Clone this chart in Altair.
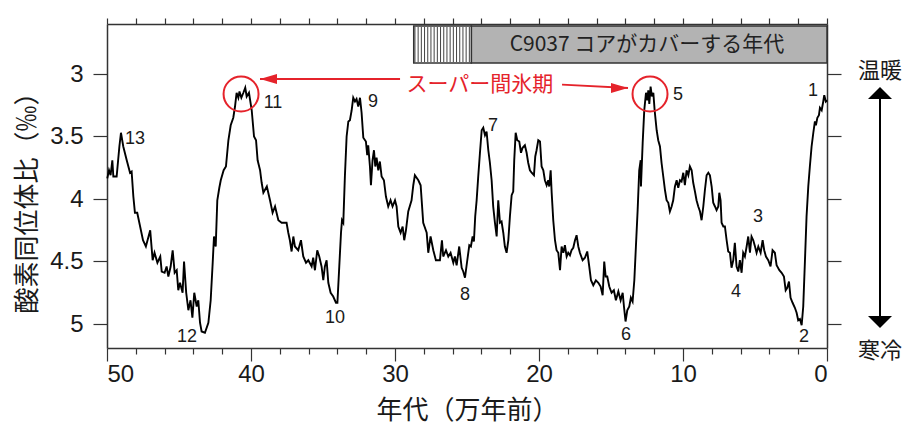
import altair as alt
import pandas as pd

# ---- oxygen isotope curve (age in 10^4 years, d18O permil) ----
ages = [49.98, 49.86, 49.75, 49.63, 49.56, 49.33, 49.14, 49.03, 48.87, 48.63, 48.40, 48.29, 48.17, 48.06,
        47.90, 47.70, 47.50, 47.30, 47.00, 46.83, 46.70, 46.50, 46.30, 46.20, 46.00, 45.86, 45.74, 45.58,
        45.44, 45.30, 45.16, 45.05, 44.93, 44.75, 44.65, 44.50, 44.35, 44.20, 44.07, 43.94, 43.77, 43.66,
        43.54, 43.43, 43.20, 42.96, 42.80, 42.66, 42.57, 42.45, 42.34, 42.20, 42.10, 41.90, 41.74, 41.57,
        41.41, 41.23, 41.11, 41.00, 40.88, 40.80, 40.67, 40.53, 40.40, 40.30, 40.14, 39.95, 39.79, 39.65,
        39.54, 39.37, 39.26, 39.14, 38.90, 38.68, 38.50, 38.33, 38.10, 37.87,
        37.53, 37.41, 37.30, 37.18, 37.06, 36.95, 36.72, 36.53, 36.37, 36.18, 36.02, 35.79, 35.68, 35.56,
        35.40, 35.26, 35.10, 34.98, 34.87, 34.75, 34.63, 34.47, 34.29, 34.10, 34.00, 33.87, 33.75, 33.68,
        33.59, 33.48, 33.36, 33.24, 33.13, 33.01, 32.90, 32.78, 32.67, 32.55, 32.43, 32.32, 32.20, 32.02,
        31.93, 31.86, 31.74, 31.67, 31.56, 31.46, 31.37, 31.28, 31.16, 31.05, 30.93, 30.77, 30.63, 30.47,
        30.31, 30.17, 30.00, 29.89, 29.77, 29.61, 29.47, 29.36, 29.24, 29.08, 28.85, 28.73, 28.62, 28.38,
        28.22, 28.04, 27.80, 27.69, 27.53, 27.34, 27.16, 27.00, 26.88, 26.74, 26.65, 26.46, 26.30, 26.14,
        25.95, 25.84, 25.72, 25.54,
        25.37, 25.26, 25.14, 24.98, 24.84, 24.73, 24.61, 24.52, 24.43, 24.33, 24.22, 24.10, 23.98, 23.87,
        23.75, 23.64, 23.52, 23.41, 23.29, 23.18, 23.06, 22.94, 22.83, 22.71, 22.60, 22.48, 22.37, 22.25,
        22.13, 22.02, 21.90, 21.79, 21.72, 21.62, 21.51, 21.37, 21.25, 21.14, 20.98, 20.86, 20.75, 20.63,
        20.51, 20.35, 20.26, 20.17, 20.05, 19.93, 19.82, 19.70, 19.59, 19.47, 19.36, 19.29, 19.19, 19.12,
        19.01, 18.89, 18.78, 18.66, 18.54, 18.43, 18.31, 18.20, 18.08, 17.97, 17.85, 17.74, 17.62, 17.50,
        17.39, 17.27, 17.16, 16.97, 16.81, 16.65, 16.51, 16.39, 16.23, 16.05, 15.88, 15.72, 15.58, 15.47,
        15.37, 15.26, 15.12, 14.96, 14.80, 14.66, 14.49, 14.33, 14.19, 14.10, 13.99, 13.87, 13.73, 13.62,
        13.50, 13.38, 13.27, 13.15, 13.04, 12.94,
        12.92, 12.80, 12.69, 12.57, 12.48, 12.41, 12.34, 12.25, 12.16, 12.06, 11.97, 11.83, 11.72, 11.60,
        11.49, 11.37, 11.25, 11.14, 11.02, 10.91, 10.79, 10.68, 10.56, 10.44, 10.33, 10.21, 10.10, 9.98,
        9.87, 9.75, 9.63, 9.52, 9.40, 9.29, 9.17, 9.06, 8.94, 8.82, 8.71, 8.59, 8.48, 8.36, 8.24, 8.13,
        8.01, 7.90, 7.78, 7.67, 7.55, 7.48, 7.39, 7.32, 7.20, 7.09, 6.97, 6.86, 6.74, 6.63, 6.51, 6.40,
        6.28, 6.16, 6.05, 5.93, 5.82, 5.70, 5.58, 5.47, 5.35, 5.24, 5.12, 5.00, 4.89, 4.77, 4.61, 4.47,
        4.36, 4.24, 4.08, 3.92, 3.78, 3.62, 3.50, 3.31, 3.15, 2.99, 2.87, 2.76, 2.64, 2.53, 2.39, 2.23,
        2.11, 2.00, 1.88, 1.76, 1.65, 1.53, 1.42, 1.30, 1.19, 1.07, 0.95, 0.84, 0.77, 0.67, 0.56, 0.49,
        0.37, 0.26, 0.19, 0.08, 0.00]
d18o = [3.835, 3.77, 3.81, 3.69, 3.82, 3.82, 3.58, 3.47, 3.58, 3.69, 3.79, 3.78, 3.98, 4.11,
        4.11, 4.22, 4.33, 4.38, 4.25, 4.49, 4.43, 4.51, 4.46, 4.58, 4.59, 4.54, 4.62, 4.54,
        4.41, 4.59, 4.57, 4.73, 4.67, 4.75, 4.50, 4.75, 4.89, 4.81, 4.95, 4.75, 4.86, 4.81,
        4.99, 5.06, 5.07, 4.99, 4.81, 4.51, 4.30, 4.38, 4.01, 3.91, 3.85, 3.77, 3.74, 3.53,
        3.41, 3.35, 3.26, 3.15, 3.19, 3.14, 3.19, 3.15, 3.11, 3.18, 3.15, 3.29, 3.50, 3.53,
        3.69, 3.77, 3.87, 3.95, 3.90, 4.01, 4.11, 4.06, 4.17, 4.19,
        4.19, 4.27, 4.33, 4.42, 4.30, 4.38, 4.41, 4.33, 4.46, 4.51, 4.49, 4.54, 4.47, 4.57,
        4.41, 4.46, 4.54, 4.65, 4.54, 4.49, 4.67, 4.75, 4.78, 4.83, 4.83, 4.54, 4.27, 4.17,
        4.19, 3.82, 3.50, 3.38, 3.37, 3.29, 3.19, 3.22, 3.20, 3.26, 3.19, 3.31, 3.51, 3.54,
        3.65, 3.57, 3.74, 3.89, 3.69, 3.61, 3.74, 3.67, 3.77, 3.70, 3.82, 3.85, 3.98, 4.06,
        4.01, 4.06, 4.01, 4.06, 4.22, 4.27, 4.22, 4.33, 4.25, 4.10, 4.01, 3.89, 3.81, 3.85,
        3.89, 4.19, 4.27, 4.43, 4.30, 4.41, 4.49, 4.49, 4.49, 4.33, 4.46, 4.41, 4.46, 4.43,
        4.51, 4.46, 4.53, 4.38,
        4.55, 4.58, 4.63, 4.49, 4.37, 4.38, 4.30, 4.34, 4.14, 4.01, 3.82, 3.63, 3.45, 3.43,
        3.49, 3.46, 3.61, 3.71, 3.85, 4.06, 4.19, 4.30, 4.01, 4.19, 4.18, 4.27, 4.38, 4.43,
        4.33, 4.14, 3.97, 3.94, 3.69, 3.47, 3.53, 3.54, 3.63, 3.59, 3.57, 3.63, 3.71, 3.77,
        3.79, 3.81, 3.66, 3.61, 3.53, 3.54, 3.74, 3.77, 3.85, 3.89, 3.85, 3.90, 3.77, 3.95,
        4.17, 4.33, 4.41, 4.43, 4.57, 4.38, 4.43, 4.37, 4.46, 4.43, 4.45, 4.41, 4.39, 4.33,
        4.29, 4.38, 4.43, 4.49, 4.47, 4.42, 4.54, 4.65, 4.69, 4.65, 4.67, 4.70, 4.77, 4.50,
        4.62, 4.62, 4.70, 4.75, 4.73, 4.81, 4.74, 4.81, 4.75, 4.86, 4.98, 4.89, 4.86, 4.79,
        4.82, 4.65, 4.38, 4.09, 3.77, 3.69,
        3.90, 3.55, 3.29, 3.15, 3.21, 3.13, 3.24, 3.10, 3.18, 3.15, 3.29, 3.45, 3.53, 3.58,
        3.71, 3.82, 3.93, 4.01, 4.03, 4.10, 4.06, 4.01, 3.90, 3.85, 3.91, 3.85, 3.86, 3.79,
        3.89, 3.77, 3.81, 3.74, 3.77, 3.87, 3.94, 4.01, 4.06, 4.10, 4.17, 4.06, 3.93, 3.81, 3.79, 3.81,
        3.90, 4.03, 4.06, 4.09, 4.06, 3.95, 4.01, 4.19, 4.22, 4.22, 4.33, 4.42, 4.43, 4.55, 4.49, 4.35,
        4.54, 4.58, 4.49, 4.59, 4.43, 4.46, 4.38, 4.30, 4.43, 4.30, 4.33, 4.38, 4.43, 4.38, 4.43, 4.33,
        4.41, 4.46, 4.49, 4.54, 4.41, 4.43, 4.53, 4.57, 4.59, 4.62, 4.73, 4.71, 4.66, 4.79, 4.83, 4.87,
        4.91, 4.97, 4.96, 5.01, 4.86, 4.49, 4.14, 3.90, 3.74, 3.58, 3.47, 3.38, 3.41, 3.35, 3.33, 3.27,
        3.29, 3.22, 3.17, 3.22, 3.21]

# ---- MIS stage labels ----
stage_text = ["13", "11", "12", "10", "9", "8", "7", "6", "5", "4", "3", "2", "1"]
stage_x = [48.06, 38.47, 44.44, 34.17, 31.53, 25.14, 23.19, 13.96, 10.35, 6.32, 4.79, 1.60, 0.97]
stage_y = [3.52, 3.232, 5.104, 4.952, 3.224, 4.768, 3.416, 5.088, 3.168, 4.744, 4.144, 5.104, 3.136]

# ---- core coverage box ----
hatch_from, core_from, core_to = 28.7, 24.7, 0.0
box_top, box_bottom = 2.616, 2.912
core_label = "C9037 コアがカバーする年代"
core_label_x, core_label_y = 12.5, 2.77

# ---- super interglacial annotation ----
circle_x = [40.69, 12.29]
circle_y = [3.16, 3.16]
super_label = "スーパー間氷期"
super_label_x, super_label_y = 24.1, 3.088
arrow_left = dict(x=29.65, x2=39.375, y=3.04, y2=3.04)
arrow_right = dict(x=18.4, x2=13.82, y=3.085, y2=3.112)

# ---- warm / cold indicator ----
side_x = -3.68
warm_label, cold_label = "温暖", "寒冷"
warm_y, cold_y = 2.976, 5.216
side_tip_top, side_tip_bottom = 3.104, 5.032

yticks = [3, 3.5, 4, 4.5, 5]
xticks = list(range(0, 51, 2))

RED = "#e5232b"
XS = alt.Scale(domain=[0, 50], reverse=True, nice=False, zero=False)
YS = alt.Scale(domain=[2.6, 5.192], reverse=True, nice=False, zero=False)
JP = "Noto Sans CJK JP"
LAT = "Liberation Sans"

curve = pd.DataFrame({"age": ages, "d18o": d18o})
line = alt.Chart(curve).mark_line(color="black", strokeWidth=1.9, strokeJoin="miter").encode(
    x=alt.X("age:Q", scale=XS, axis=alt.Axis(
        orient="bottom", values=xticks, title="年代（万年前）",
        labelExpr="datum.value % 10 === 0 ? datum.label : ''",
        tickSize={"condition": {"test": "datum.value % 10 === 0", "value": 13}, "value": 6},
        labelFontSize=24, labelFont=LAT, labelColor="#1a1a1a", labelPadding=1,
        tickColor="#333", tickWidth=1.2, domainColor="#333", domainWidth=1.5,
        titleFont=JP, titleFontSize=26, titleFontWeight="normal", titleColor="#1a1a1a", titlePadding=11,
        grid=False)),
    y=alt.Y("d18o:Q", scale=YS, axis=alt.Axis(
        orient="left", values=yticks, title="酸素同位体比（‰）", format="~g",
        tickSize=14, labelFontSize=24, labelFont=LAT, labelColor="#1a1a1a", labelPadding=10,
        tickColor="#333", tickWidth=1.2, domainColor="#333", domainWidth=1.5,
        titleFont=JP, titleFontSize=26, titleFontWeight="normal", titleColor="#1a1a1a", titlePadding=9,
        titleY=172, grid=False)),
)

box_df = pd.DataFrame({"x": [core_from], "x2": [core_to], "y": [box_top], "y2": [box_bottom]})
box = alt.Chart(box_df).mark_rect(fill="#b3b3b3", stroke="#333", strokeWidth=1.5).encode(
    x=alt.X("x:Q", scale=XS, axis=alt.Axis(orient="top", values=xticks, labels=False, title=None,
                                          tickSize=6, tickColor="#333", tickWidth=1.2,
                                          domainColor="#333", domainWidth=1.5, grid=False)),
    x2="x2:Q",
    y=alt.Y("y:Q", scale=YS, axis=alt.Axis(orient="right", values=yticks, labels=False, title=None,
                                          tickSize=14, tickColor="#333", tickWidth=1.2,
                                          domainColor="#333", domainWidth=1.5, grid=False)),
    y2="y2:Q",
)

hatch_df = pd.DataFrame({"x": [hatch_from], "x2": [core_from], "y": [box_top], "y2": [box_bottom]})
hatch_bg = alt.Chart(hatch_df).mark_rect(fill="white", stroke="#333", strokeWidth=1.5).encode(
    x=alt.X("x:Q", scale=XS, axis=None), x2="x2:Q",
    y=alt.Y("y:Q", scale=YS, axis=None), y2="y2:Q")
hatch_line_df = pd.DataFrame({"x": [hatch_from - 0.05], "x2": [core_from + 0.05],
                              "y": [(box_top + box_bottom) / 2]})
hatch = alt.Chart(hatch_line_df).mark_rule(color="#444", strokeWidth=35, strokeDash=[1, 2.2],
                                           strokeCap="butt").encode(
    x=alt.X("x:Q", scale=XS, axis=None), x2="x2:Q",
    y=alt.Y("y:Q", scale=YS, axis=None))

core_txt = alt.Chart(pd.DataFrame({"x": [core_label_x], "y": [core_label_y], "t": [core_label]})).mark_text(
    font=JP, fontSize=21, color="#222", align="center", baseline="middle").encode(
    x=alt.X("x:Q", scale=XS, axis=None), y=alt.Y("y:Q", scale=YS, axis=None), text="t:N")

circles = alt.Chart(pd.DataFrame({"x": circle_x, "y": circle_y})).mark_point(
    shape="circle", size=1225, filled=False, stroke=RED, strokeWidth=2, opacity=1).encode(
    x=alt.X("x:Q", scale=XS, axis=None), y=alt.Y("y:Q", scale=YS, axis=None))

arrows_df = pd.DataFrame([arrow_left, arrow_right])
arrow_lines = alt.Chart(arrows_df).mark_rule(color=RED, strokeWidth=2).encode(
    x=alt.X("x:Q", scale=XS, axis=None), x2="x2:Q",
    y=alt.Y("y:Q", scale=YS, axis=None), y2="y2:Q")
head_l = alt.Chart(pd.DataFrame({"x": [arrow_left["x2"]], "y": [arrow_left["y2"]]})).mark_point(
    shape="M0,0L1,-0.3L1,0.3Z", size=1156, filled=True, color=RED, opacity=1, strokeWidth=0).encode(
    x=alt.X("x:Q", scale=XS, axis=None), y=alt.Y("y:Q", scale=YS, axis=None))
head_r = alt.Chart(pd.DataFrame({"x": [arrow_right["x2"]], "y": [arrow_right["y2"]]})).mark_point(
    shape="M0,0L-1,-0.3L-1,0.3Z", size=1156, filled=True, color=RED, opacity=1, strokeWidth=0).encode(
    x=alt.X("x:Q", scale=XS, axis=None), y=alt.Y("y:Q", scale=YS, axis=None))
super_txt = alt.Chart(pd.DataFrame({"x": [super_label_x], "y": [super_label_y], "t": [super_label]})).mark_text(
    font=JP, fontSize=21, color=RED, align="center", baseline="middle").encode(
    x=alt.X("x:Q", scale=XS, axis=None), y=alt.Y("y:Q", scale=YS, axis=None), text="t:N")

stages = alt.Chart(pd.DataFrame({"x": stage_x, "y": stage_y, "t": stage_text})).mark_text(
    font=LAT, fontSize=18, color="#1a1a1a", align="center", baseline="middle").encode(
    x=alt.X("x:Q", scale=XS, axis=None), y=alt.Y("y:Q", scale=YS, axis=None), text="t:N")

side_txt = alt.Chart(pd.DataFrame({"x": [side_x, side_x], "y": [warm_y, cold_y],
                                   "t": [warm_label, cold_label]})).mark_text(
    font=JP, fontSize=22, color="#1a1a1a", align="center", baseline="middle").encode(
    x=alt.X("x:Q", scale=XS, axis=None), y=alt.Y("y:Q", scale=YS, axis=None), text="t:N")
side_line = alt.Chart(pd.DataFrame({"x": [side_x], "y": [side_tip_top + 0.05],
                                    "y2": [side_tip_bottom - 0.05]})).mark_rule(
    color="black", strokeWidth=2).encode(
    x=alt.X("x:Q", scale=XS, axis=None), y=alt.Y("y:Q", scale=YS, axis=None), y2="y2:Q")
side_up = alt.Chart(pd.DataFrame({"x": [side_x], "y": [side_tip_top]})).mark_point(
    shape="M0,0L1,1L-1,1Z", size=576, filled=True, color="black", opacity=1, strokeWidth=0).encode(
    x=alt.X("x:Q", scale=XS, axis=None), y=alt.Y("y:Q", scale=YS, axis=None))
side_down = alt.Chart(pd.DataFrame({"x": [side_x], "y": [side_tip_bottom]})).mark_point(
    shape="M0,0L1,-1L-1,-1Z", size=576, filled=True, color="black", opacity=1, strokeWidth=0).encode(
    x=alt.X("x:Q", scale=XS, axis=None), y=alt.Y("y:Q", scale=YS, axis=None))

chart = alt.layer(
    box, hatch_bg, hatch, core_txt, line, circles, arrow_lines, head_l, head_r, super_txt,
    stages, side_line, side_up, side_down, side_txt
).resolve_axis(x="independent", y="independent").properties(
    width=720, height=324,
    padding={"left": 99, "top": 16, "right": 77, "bottom": 76},
    autosize=alt.AutoSizeParams(type="none"),
    background="white",
).configure_view(stroke=None)

chart.save("out.html", embed_options={"renderer": "svg", "actions": False})
